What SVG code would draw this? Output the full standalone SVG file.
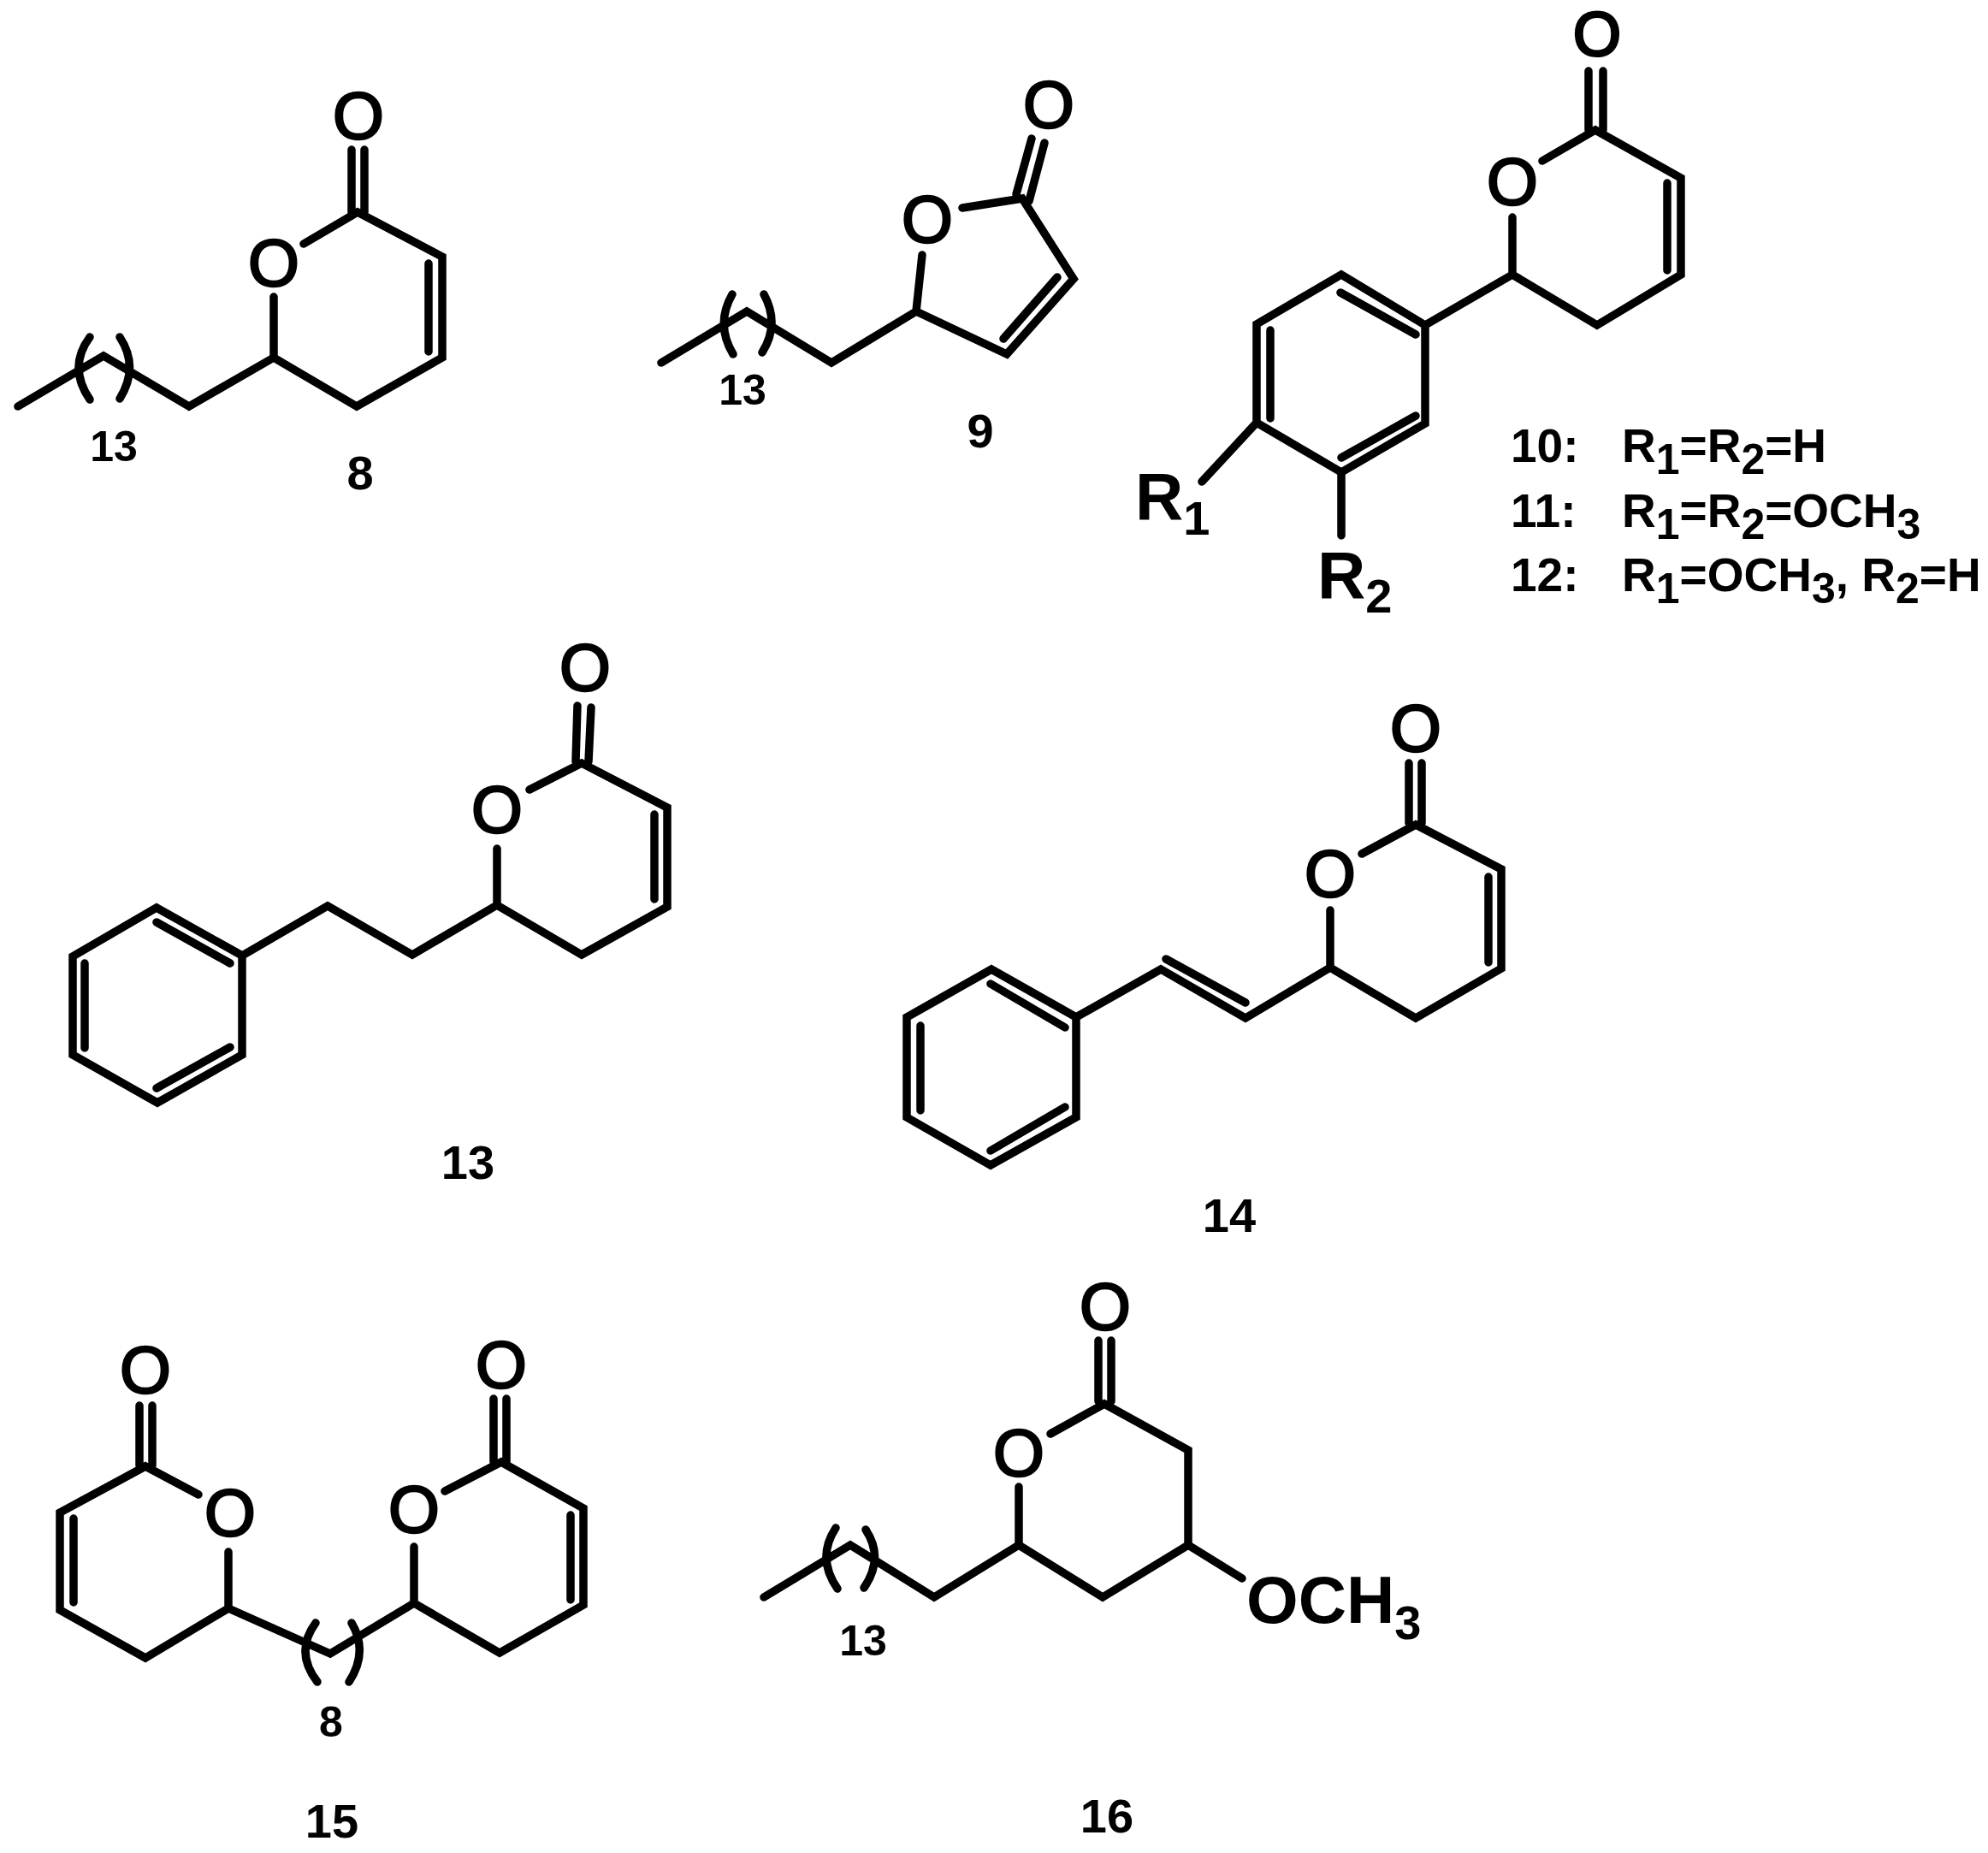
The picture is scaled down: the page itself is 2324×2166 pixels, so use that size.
<svg xmlns="http://www.w3.org/2000/svg" width="2324" height="2166" viewBox="0 0 2324 2166">
<style>
.b{fill:none;stroke:#000;stroke-width:9.5;stroke-linecap:round;stroke-linejoin:miter;stroke-miterlimit:10}
text{font-family:"Liberation Sans",Arial,sans-serif;font-weight:700;fill:#000}
.a{font-size:77px;text-anchor:middle;font-weight:400;stroke:#000;stroke-width:2.5}
.n{font-size:50px;text-anchor:middle}
.l{font-size:56px;text-anchor:middle}
.r{font-size:78px}
.s{font-size:56px}
.t{font-size:55px}
.u{font-size:50px}
</style>
<rect width="2324" height="2166" fill="#fff"/>
<g id="mol8">
<path class="b" d="M411 175V248M426 175V248M355 285L418 248L517 300V418L417 475L320 418V347M320 418L221 475L121 416L21 475M501 308V411M105 394Q79 429 105 467M140 394Q163 429 140 466"/>
<text class="a" x="419" y="162">O</text><text class="a" x="320" y="334">O</text>
<text class="n" x="133" y="539">13</text><text class="l" x="421" y="572">8</text>
</g>
<g id="mol9">
<path class="b" d="M1188 227L1206 162M1203 235L1221 167M1125 243L1195 232L1255 326L1177 414L1071 364L1078 298M1071 364L972 424L873 364L773 424M1236 324L1173 396M856 344Q836 379 857 414M893 344Q912 379 891 412"/>
<text class="a" x="1226" y="149">O</text><text class="a" x="1084" y="283">O</text>
<text class="n" x="868" y="473">13</text><text class="l" x="1146" y="523">9</text>
</g>
<g id="mol10-12">
<path class="b" d="M1857 83V152M1874 83V152M1803 188L1865 152L1965 208V321L1867 380L1768 321V254M1768 321L1666 380L1568 321L1469 379V494L1568 552L1666 495V380M1567 342L1655 391M1485 386V489M1568 535L1655 486M1469 494L1405 563M1568 552V626M1949 214V316"/>
<text class="a" x="1867" y="65" style="font-size:72px;stroke-width:3">O</text><text class="a" x="1768" y="239">O</text>
<text class="r" x="1327" y="607">R<tspan class="s" dy="18">1</tspan></text>
<text class="r" x="1540" y="699">R<tspan class="s" dy="17">2</tspan></text>
<text class="t" x="1766" y="540">10:</text>
<text class="t" x="1896" y="540">R<tspan class="u" dy="14">1</tspan><tspan dy="-14">=R</tspan><tspan class="u" dy="14">2</tspan><tspan dy="-14">=H</tspan></text>
<text class="t" x="1766" y="616">11:</text>
<text class="t" x="1896" y="616">R<tspan class="u" dy="14">1</tspan><tspan dy="-14">=R</tspan><tspan class="u" dy="14">2</tspan><tspan dy="-14">=OCH</tspan><tspan class="u" dy="14">3</tspan></text>
<text class="t" x="1766" y="691">12:</text>
<text class="t" x="1896" y="691">R<tspan class="u" dy="14">1</tspan><tspan dy="-14">=OCH</tspan><tspan class="u" dy="14">3</tspan><tspan dy="-14">, R</tspan><tspan class="u" dy="14">2</tspan><tspan dy="-14">=H</tspan></text>
</g>
<g id="mol13">
<path class="b" d="M675 825L673 890M691 827L688 890M619 923L680 892L780 944V1060L680 1116L581 1058V992M581 1058L482 1116L383 1059L283 1117L183 1061L85 1118V1233L184 1289L283 1233V1117M765 952V1051M183 1078L269 1126M99 1126V1225M183 1272L269 1224"/>
<text class="a" x="684" y="807">O</text><text class="a" x="581" y="973">O</text>
<text class="l" x="547" y="1378">13</text>
</g>
<g id="mol14">
<path class="b" d="M1647 892V962M1662 892V962M1592 998L1655 964L1755 1016V1132L1655 1190L1555 1131V1064M1555 1131L1456 1190L1357 1133L1258 1189L1159 1133L1060 1189V1306L1158 1362L1258 1306V1189M1740 1025V1125M1363 1121L1456 1172M1158 1150L1245 1201M1076 1199V1298M1158 1345L1245 1294"/>
<text class="a" x="1655" y="878">O</text><text class="a" x="1555" y="1048">O</text>
<text class="l" x="1437" y="1440">14</text>
</g>
<g id="mol15">
<path class="b" d="M163 1643V1713M178 1643V1713M232 1747L170 1714L70 1768V1882L170 1938L267 1880V1814M267 1880L386 1933L484 1874L584 1932L682 1876V1763L586 1709L520 1743M484 1874V1808M86 1775V1873M667 1771V1870M577 1635V1709M592 1635V1709M369 1897Q344 1931 371 1966M411 1897Q431 1931 408 1966"/>
<text class="a" x="170" y="1628">O</text><text class="a" x="269" y="1795">O</text>
<text class="a" x="586" y="1622">O</text><text class="a" x="484" y="1791">O</text>
<text class="n" x="387" y="2030">8</text><text class="l" x="388" y="2148">15</text>
</g>
<g id="mol16">
<path class="b" d="M1284 1567V1638M1299 1567V1638M1228 1676L1291 1641L1389 1695V1806L1289 1867L1191 1806V1738M1191 1806L1092 1867L994 1806L893 1867M1389 1806L1452 1845M977 1786Q954 1821 979 1857M1012 1788Q1034 1821 1010 1856"/>
<text class="a" x="1292" y="1554">O</text><text class="a" x="1191" y="1725">O</text>
<text class="r" x="1457" y="1897">OCH<tspan class="s" dy="19">3</tspan></text>
<text class="n" x="1009" y="1935">13</text><text class="l" x="1294" y="2142">16</text>
</g>
</svg>
